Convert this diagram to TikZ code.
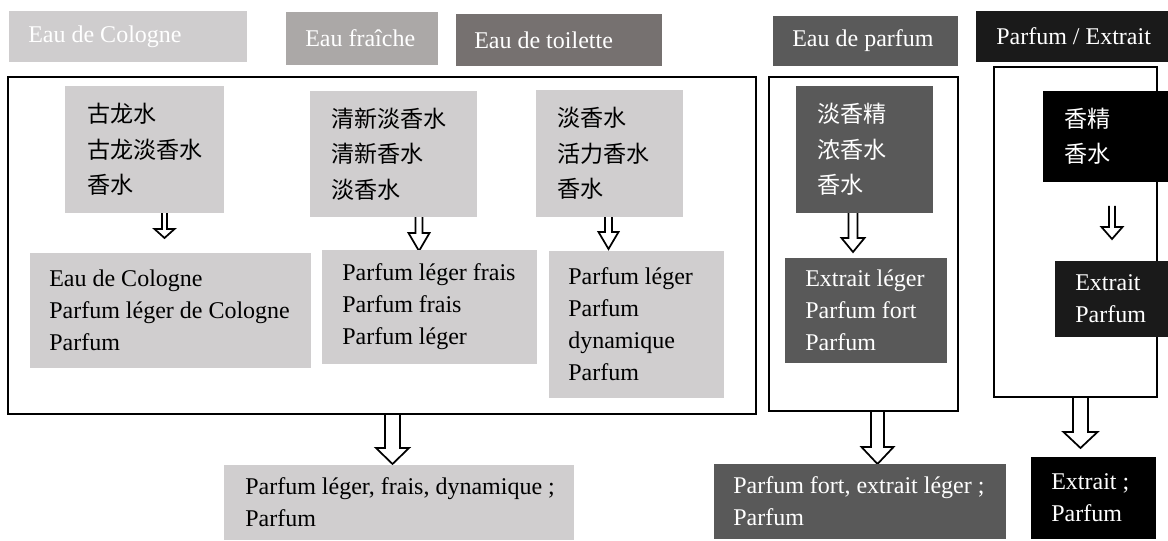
\documentclass[tikz,border=0pt]{standalone}
\usepackage{fontspec}
\setmainfont{Liberation Serif}
\newfontfamily\cjk{Noto Sans CJK SC}
\usetikzlibrary{calc}
\pgfdeclarelayer{bg}
\pgfdeclarelayer{paper}
\pgfsetlayers{paper,bg,main}
\definecolor{hA}{HTML}{CFCDCE}
\definecolor{hB}{HTML}{ABA8A7}
\definecolor{hC}{HTML}{767170}
\definecolor{hD}{HTML}{5A5A5A}
\definecolor{hE}{HTML}{1A1A1A}
\definecolor{lite}{HTML}{D0CECF}
\definecolor{dark}{HTML}{595959}
\tikzset{
  panel/.style={inner sep=0pt, outer sep=0pt, draw=none},
  frm/.style={draw=black, line width=1.7pt, inner sep=0pt, outer sep=0pt},
  lat/.style={font=\fontsize{18}{24}\selectfont, align=left, inner sep=0pt},
  latw/.style={lat, text=white},
  han/.style={font=\cjk\fontsize{17.3}{26.6}\selectfont, align=left, inner sep=0pt},
  hanw/.style={han, text=white},
  barrow/.style={draw=black, fill=white, line width=1.3pt, line join=miter},
}
% #1 name, #2 x1, #3 y1, #4 x2, #5 y2, #6 fill, #7 text style, #8 inset, #9 text
\newcommand\panelbox[9]{%
  \node[panel, fill=#6, anchor=north west, minimum width={(#4-#2)*0.75pt}, minimum height={(#5-#3)*0.75pt}] (#1) at (#2,#3) {};
  \node[#7, anchor=west] (#1-t) at ([xshift={#8*0.75pt}]#1.west) {#9};}
% #1 name, #2 x1, #3 y1, #4 x2, #5 y2
\newcommand\mkframe[5]{%
  \node[frm, anchor=north west, minimum width={(#4-#2)*0.75pt}, minimum height={(#5-#3)*0.75pt}] (#1) at (#2,#3) {};}
% #1 top reference, #2 x centre, #3 head y, #4 tip y, #5 shaft half, #6 head half
\newcommand\blockarrow[6]{%
  \draw[barrow] (#2-#5,0 |- #1) -- (#2-#5,#3) -- (#2-#6,#3) -- (#2,#4) -- (#2+#6,#3) -- (#2+#5,#3) -- (#2+#5,0 |- #1);}
\begin{document}
\begin{tikzpicture}[x=0.75pt,y=-0.75pt]
\useasboundingbox (0,0) rectangle (1168,541);
\begin{pgfonlayer}{paper}
\fill[white] (0,0) rectangle (1168,541);
\end{pgfonlayer}
% headers
\panelbox{h1}{9}{11}{247}{62}{hA}{latw}{19}{Eau de Cologne}
\panelbox{h2}{286}{12}{438}{65}{hB}{latw}{19}{Eau fraîche}
\panelbox{h3}{456}{14}{662}{66}{hC}{latw}{18}{Eau de toilette}
\panelbox{h4}{773}{16}{958}{66}{hD}{latw}{19}{Eau de parfum}
\panelbox{h5}{976}{11}{1168}{62}{hE}{latw}{20}{Parfum / Extrait}
% frames
\mkframe{F1}{8}{77}{756}{414}
\mkframe{F2}{769}{77}{958}{411}
\mkframe{F3}{994}{67}{1157}{397}
% frame 1 contents
\panelbox{c1top}{65}{86}{224}{213}{lite}{han}{22}{古龙水\\古龙淡香水\\香水}
\panelbox{c1bot}{30}{253}{311}{368}{lite}{lat}{19}{Eau de Cologne\\Parfum léger de Cologne\\Parfum}
\panelbox{c2top}{310}{91}{477}{217}{lite}{han}{21}{清新淡香水\\清新香水\\淡香水}
\panelbox{c2bot}{322}{250}{537}{364}{lite}{lat}{20}{Parfum léger frais\\Parfum frais\\Parfum léger}
\panelbox{c3top}{536}{90}{683}{217}{lite}{han}{21}{淡香水\\活力香水\\香水}
\panelbox{c3bot}{549}{251}{724}{398}{lite}{lat}{19}{Parfum léger\\Parfum\\dynamique\\Parfum}
% frame 2 contents
\panelbox{c4top}{796}{86}{933}{213}{dark}{hanw}{21}{淡香精\\浓香水\\香水}
\panelbox{c4bot}{785}{258}{947}{363}{dark}{latw}{20}{Extrait léger\\Parfum fort\\Parfum}
% frame 3 contents
\panelbox{c5top}{1043}{91}{1168}{182}{black}{hanw}{21}{香精\\香水}
\panelbox{c5bot}{1055}{261}{1168}{337}{hE}{latw}{20}{Extrait\\Parfum}
% bottom results
\panelbox{r1}{224}{465}{574}{540}{lite}{lat}{21}{Parfum léger, frais, dynamique ;\\Parfum}
\panelbox{r2}{714}{464}{1006}{539}{dark}{latw}{19}{Parfum fort, extrait léger ;\\Parfum}
\panelbox{r3}{1031}{457}{1156}{539}{black}{latw}{20}{Extrait ;\\Parfum}
\coordinate (a5top) at (1112,206);
\begin{pgfonlayer}{bg}
\blockarrow{c1top.south}{164.5}{229}{238}{2.5}{10}
\blockarrow{c2top.south}{419}{233}{251}{3.5}{10.5}
\blockarrow{c3top.south}{608.5}{232}{249}{3.5}{10}
\blockarrow{c4top.south}{853}{238}{252}{4.5}{11.5}
\blockarrow{a5top}{1112}{227}{239}{3}{10.5}
\blockarrow{F1.south}{392.5}{448}{464}{7.5}{16.5}
\blockarrow{F2.south}{877.5}{447}{464}{6.5}{16}
\blockarrow{F3.south}{1080.5}{432}{448}{7.5}{17}
\end{pgfonlayer}
\end{tikzpicture}
\end{document}
